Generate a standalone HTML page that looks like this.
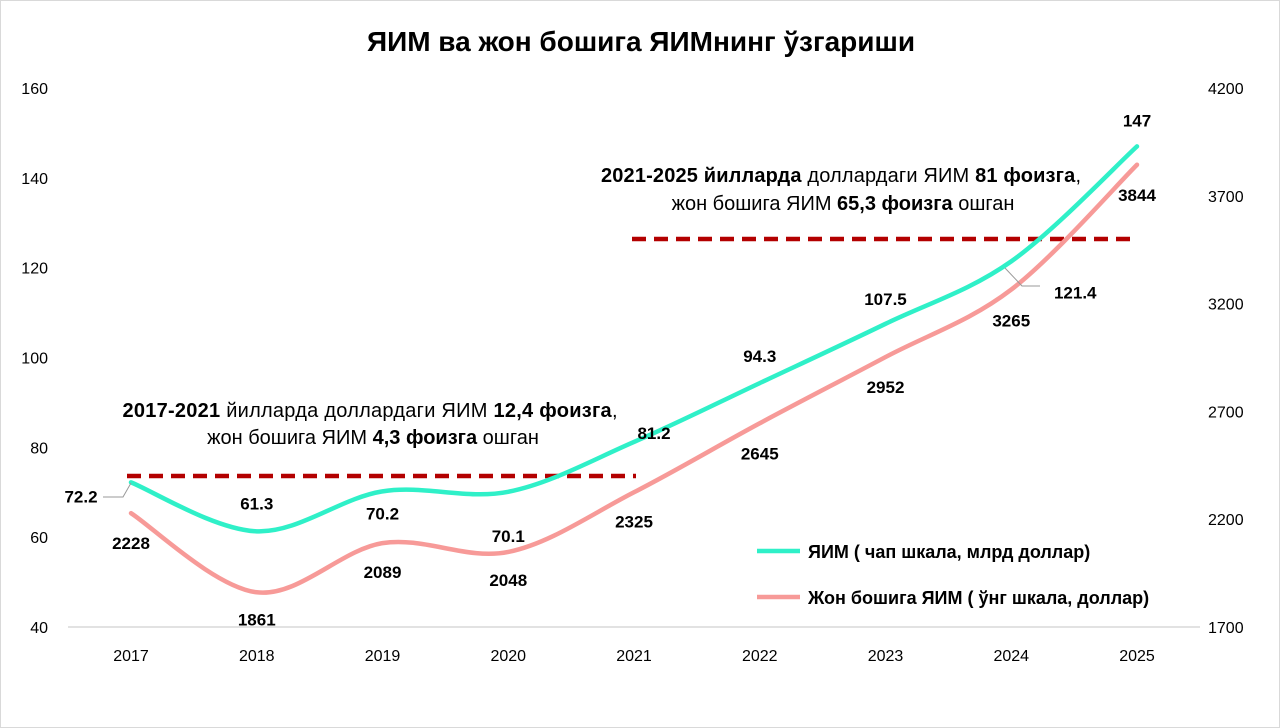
<!DOCTYPE html>
<html><head><meta charset="utf-8"><style>
body{margin:0;background:#fff;}
svg{display:block;font-family:"Liberation Sans","DejaVu Sans",sans-serif;}
</style></head><body>
<svg id="chart" width="1280" height="728" viewBox="0 0 1280 728">
<rect x="0.5" y="0.5" width="1279" height="727" fill="#fff" stroke="#d9d9d9"/>
<text x="641" y="51" text-anchor="middle" font-size="28" font-weight="bold" fill="#000">ЯИМ ва жон бошига ЯИМнинг ўзгариши</text>
<line x1="68" y1="627" x2="1200" y2="627" stroke="#d9d9d9" stroke-width="1.5"/>
<g id="yl"></g><g id="yr"></g><g id="xt"></g>
<line x1="127" y1="476" x2="636" y2="476" stroke="#b30000" stroke-width="4.5" stroke-dasharray="14,8"/>
<line x1="632" y1="239" x2="1138" y2="239" stroke="#b30000" stroke-width="4.5" stroke-dasharray="14,8"/>
<g id="series"></g>
<text x="370" y="417" text-anchor="middle" font-size="20" textLength="495"><tspan font-weight="bold">2017-2021</tspan> йилларда  доллардаги ЯИМ <tspan font-weight="bold">12,4 фоизга</tspan>,</text>
<text x="373" y="444" text-anchor="middle" font-size="20">жон бошига ЯИМ <tspan font-weight="bold">4,3 фоизга</tspan> ошган</text>
<text x="841" y="182" text-anchor="middle" font-size="20" textLength="480"><tspan font-weight="bold">2021-2025 йилларда</tspan>  доллардаги ЯИМ <tspan font-weight="bold">81 фоизга</tspan>,</text>
<text x="843" y="210" text-anchor="middle" font-size="20">жон бошига ЯИМ <tspan font-weight="bold">65,3 фоизга</tspan> ошган</text>
<line x1="757" y1="551" x2="800" y2="551" stroke="#2ff0c8" stroke-width="4.5"/>
<text x="808" y="558" font-size="18" font-weight="bold">ЯИМ ( чап шкала, млрд доллар)</text>
<line x1="757" y1="597" x2="800" y2="597" stroke="#f79a98" stroke-width="4.5"/>
<text x="808" y="604" font-size="18" font-weight="bold">Жон бошига ЯИМ ( ўнг шкала, доллар)</text>
<polyline points="103,497 123,497 131,483" fill="none" stroke="#999" stroke-width="1"/>
<polyline points="1040,286 1022,286 1005,268" fill="none" stroke="#999" stroke-width="1"/>
</svg>
<script>
const years=["2017","2018","2019","2020","2021","2022","2023","2024","2025"];
const gdp=[72.2,61.3,70.2,70.1,81.2,94.3,107.5,121.4,147];
const perCapita=[2228,1861,2089,2048,2325,2645,2952,3265,3844];
const leftTicks=[40,60,80,100,120,140,160];
const rightTicks=[1700,2200,2700,3200,3700,4200];
const gdpLabelOffsets=[[-50,14],[0,-28],[0,22],[0,44],[20,-9],[0,-27],[0,-25],[64,31],[0,-26]];
const pcLabelOffsets=[[0,30],[0,27],[0,29],[0,28],[0,29],[0,30],[0,30],[0,31],[0,30]];
const NS="http://www.w3.org/2000/svg";
const X=i=>131+i*125.75;
const YL=v=>627-(v-40)/120*539;
const YR=v=>627-(v-1700)/2500*539;
function mk(t,a,p){const e=document.createElementNS(NS,t);for(const k in a)e.setAttribute(k,a[k]);p.appendChild(e);return e;}
const yl=document.getElementById('yl'),yr=document.getElementById('yr'),xt=document.getElementById('xt'),sg=document.getElementById('series');
leftTicks.forEach(v=>{const t=mk('text',{x:48,y:YL(v)+6,'text-anchor':'end','font-size':16},yl);t.textContent=v;

});
rightTicks.forEach(v=>{const t=mk('text',{x:1208,y:YR(v)+6,'font-size':16},yr);t.textContent=v;

});
years.forEach((y,i)=>{const t=mk('text',{x:X(i),y:661,'text-anchor':'middle','font-size':16},xt);t.textContent=y;

});
function smooth(pts){let d=`M${pts[0][0]},${pts[0][1]}`;for(let i=0;i<pts.length-1;i++){const p0=pts[Math.max(i-1,0)],p1=pts[i],p2=pts[i+1],p3=pts[Math.min(i+2,pts.length-1)];const c1=[p1[0]+(p2[0]-p0[0])/6,p1[1]+(p2[1]-p0[1])/6],c2=[p2[0]-(p3[0]-p1[0])/6,p2[1]-(p3[1]-p1[1])/6];d+=`C${c1[0]},${c1[1]} ${c2[0]},${c2[1]} ${p2[0]},${p2[1]}`;}return d;}
const pc=mk('path',{d:smooth(perCapita.map((v,i)=>[X(i),YR(v)])),fill:'none',stroke:'#f79a98','stroke-width':4.5,'stroke-linecap':'round'},sg);


const gl=mk('path',{d:smooth(gdp.map((v,i)=>[X(i),YL(v)])),fill:'none',stroke:'#2ff0c8','stroke-width':4.5,'stroke-linecap':'round'},sg);


gdp.forEach((v,i)=>{const o=gdpLabelOffsets[i];const t=mk('text',{x:X(i)+o[0],y:YL(v)+o[1]+6,'text-anchor':'middle','font-size':17,'font-weight':'bold'},sg);t.textContent=v;

});
perCapita.forEach((v,i)=>{const o=pcLabelOffsets[i];const t=mk('text',{x:X(i)+o[0],y:YR(v)+o[1]+6,'text-anchor':'middle','font-size':17,'font-weight':'bold'},sg);t.textContent=v;

});
</script>
</body></html>
